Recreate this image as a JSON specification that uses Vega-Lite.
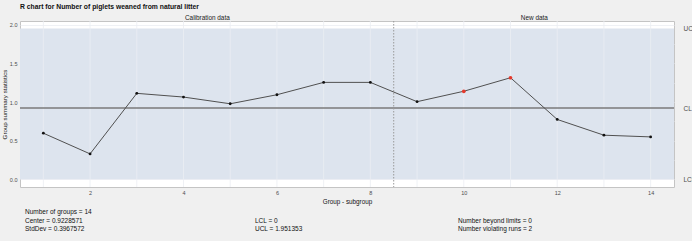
{
  "$schema": "https://vega.github.io/schema/vega-lite/v6.json",
  "width": 654,
  "height": 166,
  "autosize": {"type": "none"},
  "padding": {"left": 20, "top": 21, "right": 18, "bottom": 54},
  "background": "#f0f0f0",
  "config": {
    "font": "Liberation Sans",
    "view": {"fill": "#ffffff", "stroke": "#c4c4c4", "strokeWidth": 1}
  },
  "title": {
    "text": "R chart for Number of piglets weaned from natural litter",
    "anchor": "start",
    "frame": "group",
    "fontSize": 6.8,
    "fontWeight": "bold",
    "color": "#111111",
    "offset": 3
  },
  "datasets": {
    "pts": [
      {"group": 1, "value": 0.597, "status": "ok"},
      {"group": 2, "value": 0.329, "status": "ok"},
      {"group": 3, "value": 1.113, "status": "ok"},
      {"group": 4, "value": 1.065, "status": "ok"},
      {"group": 5, "value": 0.978, "status": "ok"},
      {"group": 6, "value": 1.095, "status": "ok"},
      {"group": 7, "value": 1.255, "status": "ok"},
      {"group": 8, "value": 1.255, "status": "ok"},
      {"group": 9, "value": 1.005, "status": "ok"},
      {"group": 10, "value": 1.14, "status": "violating"},
      {"group": 11, "value": 1.315, "status": "violating"},
      {"group": 12, "value": 0.775, "status": "ok"},
      {"group": 13, "value": 0.571, "status": "ok"},
      {"group": 14, "value": 0.549, "status": "ok"}
    ],
    "stats": [
      {"x": 0.607, "y": -0.427, "label": "Number of groups = 14"},
      {"x": 0.607, "y": -0.535, "label": "Center = 0.9228571"},
      {"x": 0.607, "y": -0.643, "label": "StdDev = 0.3967572"},
      {"x": 5.53, "y": -0.535, "label": "LCL = 0"},
      {"x": 5.53, "y": -0.643, "label": "UCL = 1.951353"},
      {"x": 9.876, "y": -0.535, "label": "Number beyond limits = 0"},
      {"x": 9.876, "y": -0.643, "label": "Number violating runs = 2"}
    ]
  },
  "resolve": {"axis": {"x": "independent", "y": "independent"}},
  "layer": [
    {
      "data": {"values": [{"lcl": 0, "ucl": 1.951353}]},
      "mark": {"type": "rect", "fill": "#dde4ee"},
      "encoding": {
        "y": {"field": "lcl", "type": "quantitative", "scale": {"domain": [-0.1, 2.05], "nice": false, "zero": false},
          "axis": {
            "orient": "left",
            "values": [0, 0.25, 0.5, 0.75, 1, 1.25, 1.5, 1.75, 2],
            "labelExpr": "datum.value % 0.5 == 0 ? format(datum.value, '.1f') : ''",
            "labelFontSize": 5.5, "labelColor": "#4d4d4d", "labelPadding": 3,
            "ticks": false, "domain": false,
            "grid": true, "gridColor": "#ebeef3", "gridWidth": 0.8, "zindex": 0,
            "title": "Group summary statistics", "titleFontSize": 6.2, "titleFontWeight": "normal", "titleColor": "#111111", "titlePadding": 2
          }},
        "y2": {"field": "ucl"}
      }
    },
    {
      "data": {"values": [{"g": 1}, {"g": 2}, {"g": 3}, {"g": 4}, {"g": 5}, {"g": 6}, {"g": 7}, {"g": 8}, {"g": 9}, {"g": 10}, {"g": 11}, {"g": 12}, {"g": 13}, {"g": 14}]},
      "mark": {"type": "rule", "stroke": "#ebeef3", "strokeWidth": 0.8},
      "encoding": {
        "x": {"field": "g", "type": "quantitative", "scale": {"domain": [0.5, 14.5], "nice": false, "zero": false},
          "axis": {
            "orient": "bottom",
            "values": [1, 2, 3, 4, 5, 6, 7, 8, 9, 10, 11, 12, 13, 14],
            "labelExpr": "datum.value % 2 == 0 ? datum.label : ''",
            "labelFontSize": 5.5, "labelColor": "#4d4d4d", "labelPadding": 3,
            "ticks": false, "domain": false, "grid": false,
            "title": "Group - subgroup", "titleFontSize": 6.3, "titleFontWeight": "normal", "titleColor": "#111111", "titlePadding": 3
          }}
      }
    },
    {
      "data": {"values": [{"cl": 0.9228571, "lcl": 0, "ucl": 1.951353}]},
      "mark": {"type": "rule", "stroke": "#7a7a7a", "strokeWidth": 1.5},
      "encoding": {
        "y": {"field": "cl", "type": "quantitative",
          "axis": {
            "orient": "right",
            "values": [0, 0.9228571, 1.951353],
            "labelExpr": "datum.value == 0 ? 'LCL' : (datum.value > 1.5 ? 'UCL' : 'CL')",
            "labelFontSize": 6.5, "labelColor": "#4d4d4d", "labelPadding": 9,
            "ticks": false, "domain": false, "grid": false, "title": null
          }}
      }
    },
    {
      "data": {"values": [{"split": 8.5}]},
      "mark": {"type": "rule", "stroke": "#9a9a9a", "strokeWidth": 1, "strokeDash": [1.5, 1.5]},
      "encoding": {
        "x": {"field": "split", "type": "quantitative",
          "axis": {
            "orient": "top",
            "values": [4.5, 11.5],
            "labelExpr": "datum.value < 8 ? 'Calibration data' : 'New data'",
            "labelFontSize": 6.4, "labelColor": "#1a1a1a", "labelPadding": 1,
            "ticks": false, "domain": false, "grid": false, "title": null
          }}
      }
    },
    {
      "data": {"name": "pts"},
      "mark": {"type": "line", "stroke": "#505050", "strokeWidth": 1},
      "encoding": {
        "x": {"field": "group", "type": "quantitative", "axis": null},
        "y": {"field": "value", "type": "quantitative", "axis": null}
      }
    },
    {
      "data": {"name": "pts"},
      "mark": {"type": "point", "shape": "circle", "filled": true, "opacity": 1},
      "encoding": {
        "x": {"field": "group", "type": "quantitative", "axis": null},
        "y": {"field": "value", "type": "quantitative", "axis": null},
        "color": {"field": "status", "type": "nominal", "scale": {"domain": ["ok", "violating"], "range": ["#111111", "#e3392c"]}, "legend": null},
        "size": {"condition": {"test": "datum.status == 'violating'", "value": 14}, "value": 8}
      }
    },
    {
      "data": {"name": "stats"},
      "mark": {"type": "text", "align": "left", "baseline": "middle", "fontSize": 6.5, "color": "#111111", "clip": false},
      "encoding": {
        "x": {"field": "x", "type": "quantitative", "axis": null},
        "y": {"field": "y", "type": "quantitative", "axis": null},
        "text": {"field": "label"}
      }
    }
  ]
}
